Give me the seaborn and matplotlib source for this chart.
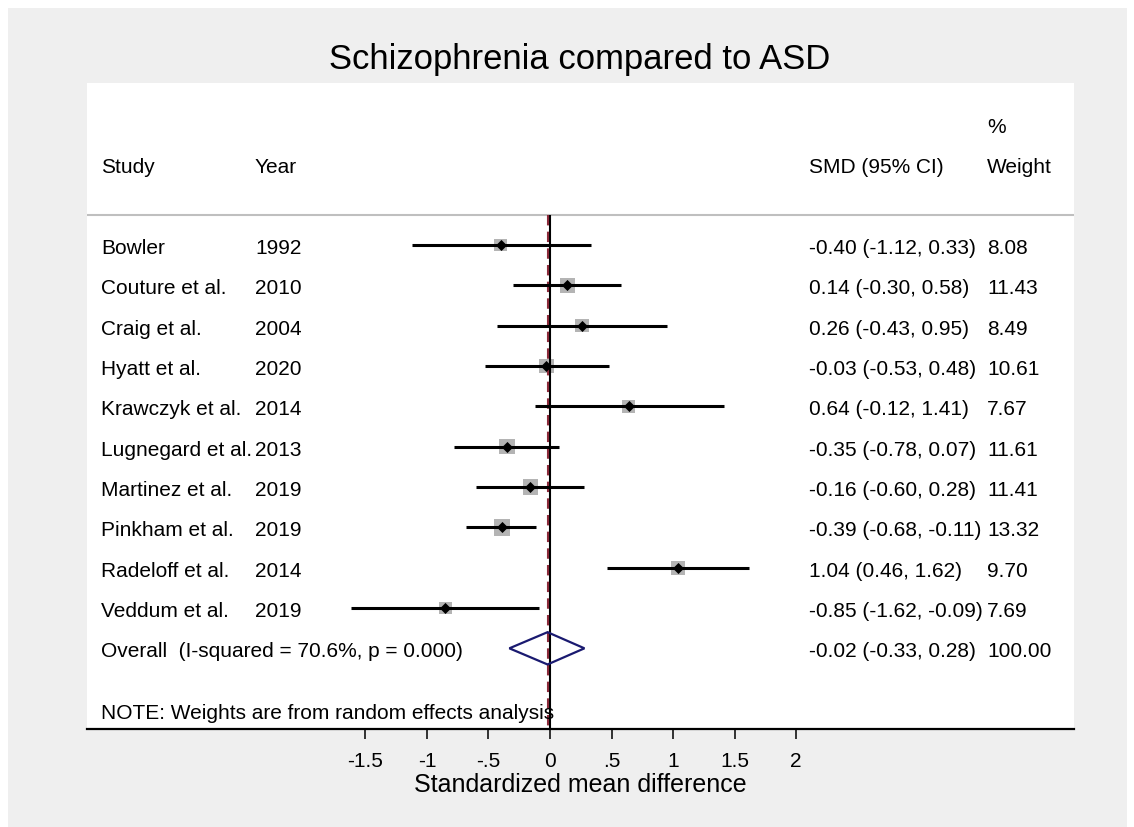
import matplotlib
matplotlib.use("Agg")
import matplotlib.pyplot as plt
import matplotlib.transforms as mtransforms
from matplotlib.patches import Rectangle, Polygon
import seaborn as sns
import pandas as pd

# Forest plot data - Schizophrenia vs ASD
studies = ['Bowler', 'Couture et al.', 'Craig et al.', 'Hyatt et al.', 'Krawczyk et al.',
           'Lugnegard et al.', 'Martinez et al.', 'Pinkham et al.', 'Radeloff et al.', 'Veddum et al.']
years = ['1992', '2010', '2004', '2020', '2014', '2013', '2019', '2019', '2014', '2019']
smd = [-0.40, 0.14, 0.26, -0.03, 0.64, -0.35, -0.16, -0.39, 1.04, -0.85]
ci_low = [-1.12, -0.30, -0.43, -0.53, -0.12, -0.78, -0.60, -0.68, 0.46, -1.62]
ci_high = [0.33, 0.58, 0.95, 0.48, 1.41, 0.07, 0.28, -0.11, 1.62, -0.09]
weights = [8.08, 11.43, 8.49, 10.61, 7.67, 11.61, 11.41, 13.32, 9.70, 7.69]

overall_smd = -0.02
overall_low = -0.33
overall_high = 0.28
overall_label = 'Overall  (I-squared = 70.6%, p = 0.000)'
overall_weight = '100.00'

tick_vals = [-1.5, -1, -0.5, 0, 0.5, 1, 1.5, 2]
tick_labels = ['-1.5', '-1', '-.5', '0', '.5', '1', '1.5', '2']

df = pd.DataFrame({'study': studies, 'year': years, 'smd': smd,
                   'lo': ci_low, 'hi': ci_high, 'weight': weights})
df['row'] = range(len(df))
overall_row = len(df)

sns.set_theme(style='white')
plt.rcParams['font.family'] = ['Liberation Sans', 'DejaVu Sans']
plt.rcParams['text.color'] = 'black'
plt.rcParams['axes.labelcolor'] = 'black'
plt.rcParams['xtick.color'] = 'black'

W, H = 1134, 828
fig = plt.figure(figsize=(W / 100, H / 100), dpi=100)
fig.patch.set_facecolor('white')
# gray graph region
fig.patches.append(Rectangle((8 / W, 0), 1119 / W, (H - 9) / H, transform=fig.transFigure,
                             facecolor='#efefef', edgecolor='none', zorder=-1))

ax = fig.add_axes([87 / W, 1 - 730 / H, (1074 - 87) / W, (730 - 84) / H])
ax.set_facecolor('white')
ax.set_xlim(-3.762, 4.258)
ax.set_ylim(12.0, -4.015)

sep_y = -0.75
ax.axhline(sep_y, color='#bfbfbf', lw=1.5)

# reference lines
ax.vlines(0, sep_y, 12.0, color='black', lw=1.5, zorder=3)
ax.vlines(overall_smd, sep_y, 12.0, color='#8b2a3a', lw=1.5, linestyles=(0, (5, 3)), zorder=3)

# CIs
ax.hlines(df['row'], df['lo'], df['hi'], color='black', lw=2.2, zorder=4)

# weight boxes (area ~ weight)
sns.scatterplot(data=df, x='smd', y='row', size='weight',
                sizes={w: 10.6 * w for w in weights}, marker='s',
                color='#b4b4b4', edgecolor='none', legend=False, ax=ax, zorder=2)
# point estimates
ax.scatter(df['smd'], df['row'], marker='D', s=32, color='black', zorder=5, linewidths=0)

# overall diamond
dh = 0.4
diamond = Polygon([(overall_low, overall_row), (overall_smd, overall_row - dh),
                   (overall_high, overall_row), (overall_smd, overall_row + dh)],
                  closed=True, facecolor='none', edgecolor='#1a1a70', lw=1.6, zorder=6)
ax.add_patch(diamond)

# text columns
tr = mtransforms.blended_transform_factory(ax.transAxes, ax.transData)
fs = 15.0
x_study, x_year, x_ci, x_wt = 14 / 987, 168 / 987, 722 / 987, 900 / 987
dy = 0.06

def put(x, y, s):
    ax.text(x, y + dy, s, transform=tr, fontsize=fs, va='center')

put(x_study, -2.0, 'Study')
put(x_year, -2.0, 'Year')
put(x_ci, -2.0, 'SMD (95% CI)')
put(x_wt, -3.0, '%')
put(x_wt, -2.0, 'Weight')

for i, r in df.iterrows():
    put(x_study, r['row'], r['study'])
    put(x_year, r['row'], r['year'])
    put(x_ci, r['row'], f"{r['smd']:.2f} ({r['lo']:.2f}, {r['hi']:.2f})")
    put(x_wt, r['row'], f"{r['weight']:.2f}")

put(x_study, overall_row, overall_label)
put(x_ci, overall_row, f"{overall_smd:.2f} ({overall_low:.2f}, {overall_high:.2f})")
put(x_wt, overall_row, overall_weight)
put(x_study, 11.52, 'NOTE: Weights are from random effects analysis')

# axes styling
for side in ['top', 'left', 'right']:
    ax.spines[side].set_visible(False)
ax.spines['bottom'].set_color('black')
ax.spines['bottom'].set_linewidth(1.6)
ax.set_yticks([])
ax.set_ylabel('')
ax.set_xticks(tick_vals)
ax.set_xticklabels(tick_labels, fontsize=fs)
ax.tick_params(axis='x', direction='out', length=7, width=1.1, color='black', pad=9,
               bottom=True)
ax.set_xlabel('Standardized mean difference', fontsize=18, labelpad=1)

fig.text(580 / W, 1 - 60 / H, 'Schizophrenia compared to ASD', fontsize=24.9,
         ha='center', va='center')

fig.savefig('out.png', dpi=100, facecolor=fig.get_facecolor())
